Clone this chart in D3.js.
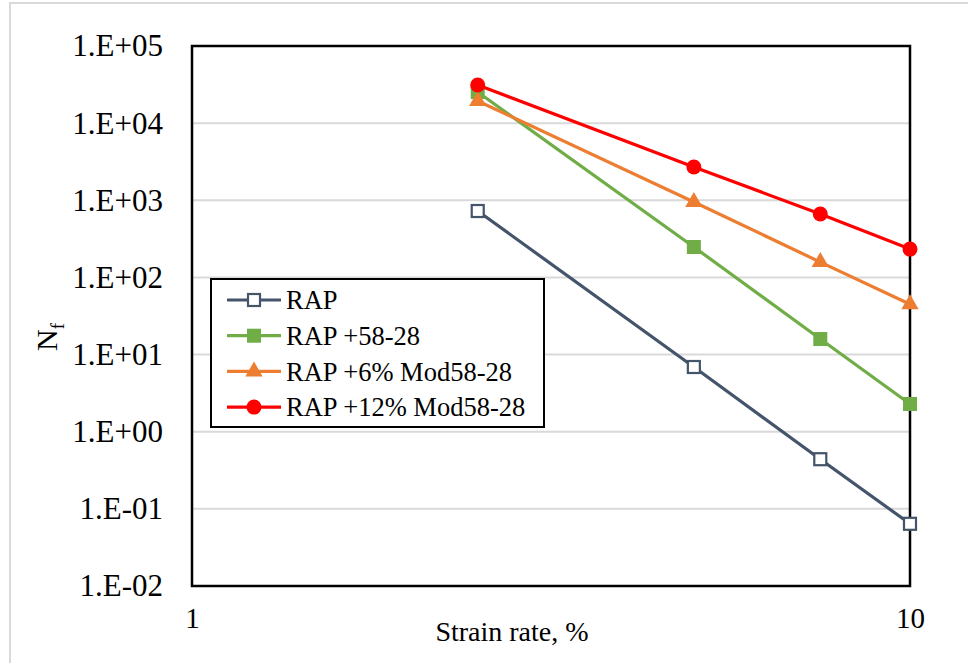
<!DOCTYPE html>
<html>
<head>
<meta charset="utf-8">
<script src="https://cdn.jsdelivr.net/npm/d3@7"></script>
<style>
  html, body { margin: 0; padding: 0; background: #fff; }
  svg { display: block; }
</style>
</head>
<body>
<svg id="chart" width="968" height="663"></svg>
<script>
// Strain rate (%) at which fatigue life was measured
const strainRates = [2.5, 5, 7.5, 10];

// Fatigue life N_f for each mix
const seriesNames = ["RAP", "RAP +58-28", "RAP +6% Mod58-28", "RAP +12% Mod58-28"];
const rapValues     = [726, 6.9, 0.44, 0.064];
const rap5828Values = [25300, 248, 15.9, 2.29];
const rap6Values    = [19400, 950, 158, 45];
const rap12Values   = [31200, 2700, 664, 233];

// Axis ticks
const yTicks = [1e-2, 1e-1, 1e0, 1e1, 1e2, 1e3, 1e4, 1e5];
const yTickLabels = ["1.E-02", "1.E-01", "1.E+00", "1.E+01", "1.E+02", "1.E+03", "1.E+04", "1.E+05"];
const xTicks = [1, 10];
const xTickLabels = ["1", "10"];

const FONT = "'Liberation Serif', 'DejaVu Serif', serif";

const svg = d3.select("#chart").style("font-family", FONT);
const plot = { left: 192, right: 910, top: 46, bottom: 586 };

const x = d3.scaleLog().domain([1, 10]).range([plot.left, plot.right]);
const y = d3.scaleLog().domain([1e-2, 1e5]).range([plot.bottom, plot.top]);

// Outer chart-area border
svg.append("rect")
  .attr("x", 10).attr("y", 3)
  .attr("width", 968).attr("height", 680)
  .attr("fill", "none")
  .attr("stroke", "#d9d9d9")
  .attr("stroke-width", 2);

// Horizontal gridlines
svg.append("g")
  .selectAll("line")
  .data(yTicks.slice(1, -1))
  .join("line")
  .attr("x1", plot.left).attr("x2", plot.right)
  .attr("y1", d => y(d)).attr("y2", d => y(d))
  .attr("stroke", "#d9d9d9")
  .attr("stroke-width", 2);

// Y axis labels
const yAxis = d3.axisLeft(y)
  .tickValues(yTicks)
  .tickFormat((d, i) => yTickLabels[i])
  .tickSize(0)
  .tickPadding(29);
svg.append("g")
  .attr("transform", `translate(${plot.left},0)`)
  .call(yAxis)
  .attr("font-family", FONT)
  .attr("font-size", 31)
  .call(g => g.select(".domain").remove())
  .call(g => g.selectAll("text")
    .style("font-family", FONT)
    .attr("fill", "#000"));

// X axis labels
const xAxis = d3.axisBottom(x)
  .tickValues(xTicks)
  .tickFormat((d, i) => xTickLabels[i])
  .tickSize(0)
  .tickPadding(21);
svg.append("g")
  .attr("transform", `translate(0,${plot.bottom})`)
  .call(xAxis)
  .attr("font-family", FONT)
  .attr("font-size", 29)
  .call(g => g.select(".domain").remove())
  .call(g => g.selectAll("text")
    .style("font-family", FONT)
    .attr("fill", "#000"));

// Plot frame
svg.append("rect")
  .attr("x", plot.left).attr("y", plot.top)
  .attr("width", plot.right - plot.left)
  .attr("height", plot.bottom - plot.top)
  .attr("fill", "none")
  .attr("stroke", "#000")
  .attr("stroke-width", 2.5);

// Axis titles
svg.append("text")
  .attr("x", 512).attr("y", 641)
  .attr("text-anchor", "middle")
  .style("font-family", FONT)
  .attr("font-size", 28)
  .text("Strain rate, %");

const yTitle = svg.append("text")
  .attr("transform", "translate(57,337) rotate(-90)")
  .attr("text-anchor", "middle")
  .style("font-family", FONT)
  .attr("font-size", 30);
yTitle.append("tspan").text("N");
yTitle.append("tspan").attr("font-size", 19).attr("dy", 7).text("f");

// Series
const series = [
  { name: seriesNames[0], values: rapValues,     color: "#44546A", marker: "hollowSquare" },
  { name: seriesNames[1], values: rap5828Values, color: "#70AD47", marker: "square" },
  { name: seriesNames[2], values: rap6Values,    color: "#ED7D31", marker: "triangle" },
  { name: seriesNames[3], values: rap12Values,   color: "#FF0000", marker: "circle" }
];

function drawMarker(g, type, color) {
  if (type === "hollowSquare") {
    g.append("rect").attr("x", -6).attr("y", -6).attr("width", 12).attr("height", 12)
      .attr("fill", "#fff").attr("stroke", color).attr("stroke-width", 2.2);
  } else if (type === "square") {
    g.append("rect").attr("x", -7).attr("y", -7).attr("width", 14).attr("height", 14)
      .attr("fill", color);
  } else if (type === "triangle") {
    g.append("path").attr("d", d3.symbol(d3.symbolTriangle, 130)()).attr("fill", color);
  } else {
    g.append("circle").attr("r", 7.5).attr("fill", color);
  }
}

const line = d3.line().x(d => x(d.x)).y(d => y(d.y));

series.forEach(s => {
  const pts = strainRates.map((r, i) => ({ x: r, y: s.values[i] }));
  const g = svg.append("g");
  g.append("path")
    .datum(pts)
    .attr("d", line)
    .attr("fill", "none")
    .attr("stroke", s.color)
    .attr("stroke-width", 3.2);
  g.selectAll("g.pt")
    .data(pts)
    .join("g")
    .attr("class", "pt")
    .attr("transform", d => `translate(${x(d.x)},${y(d.y)})`)
    .each(function () { drawMarker(d3.select(this), s.marker, s.color); });
});

// Legend
const legend = svg.append("g");
legend.append("rect")
  .attr("x", 211).attr("y", 279)
  .attr("width", 333).attr("height", 148)
  .attr("fill", "#fff")
  .attr("stroke", "#000")
  .attr("stroke-width", 2);

series.forEach((s, i) => {
  const cy = 300 + i * 35.7;
  const item = legend.append("g");
  item.append("line")
    .attr("x1", 227).attr("x2", 281)
    .attr("y1", cy).attr("y2", cy)
    .attr("stroke", s.color)
    .attr("stroke-width", 3.2);
  const m = item.append("g").attr("transform", `translate(254,${cy})`);
  drawMarker(m, s.marker, s.color);
  item.append("text")
    .attr("x", 286).attr("y", cy)
    .attr("dy", "0.35em")
    .style("font-family", FONT)
    .attr("font-size", 26.5)
    .text(s.name);
});
</script>
</body>
</html>
